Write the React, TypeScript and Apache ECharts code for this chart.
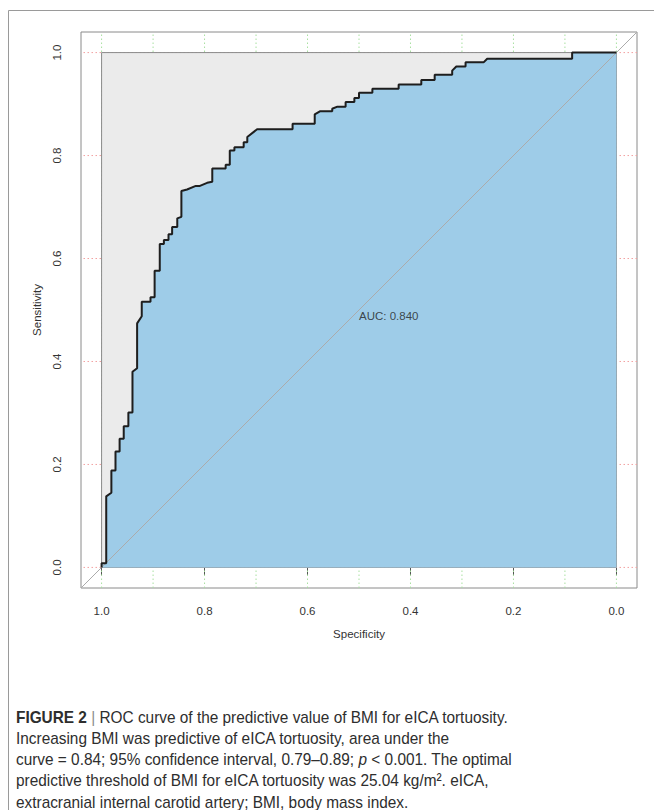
import React, { useEffect, useRef } from "react";
import * as echarts from "echarts";

// ROC curve points (specificity, sensitivity)
const specificity = [
  1.0, 1.0, 0.991, 0.991, 0.981, 0.981, 0.973, 0.973, 0.965, 0.965, 0.957, 0.957,
  0.948, 0.948, 0.94, 0.94, 0.931, 0.931, 0.922, 0.922, 0.905, 0.905, 0.897, 0.897,
  0.887, 0.887, 0.879, 0.879, 0.87, 0.87, 0.863, 0.863, 0.853, 0.853, 0.845, 0.845,
  0.834, 0.817, 0.809, 0.795, 0.785, 0.785, 0.759, 0.759, 0.751, 0.751, 0.742, 0.742,
  0.724, 0.724, 0.717, 0.717, 0.698, 0.629, 0.629, 0.586, 0.586, 0.576, 0.552, 0.552,
  0.542, 0.526, 0.526, 0.509, 0.509, 0.5, 0.5, 0.474, 0.474, 0.423, 0.423, 0.379,
  0.379, 0.353, 0.353, 0.319, 0.319, 0.311, 0.293, 0.293, 0.258, 0.251, 0.086, 0.086,
  0.0,
];
const sensitivity = [
  0.0, 0.008, 0.008, 0.138, 0.145, 0.188, 0.188, 0.225, 0.225, 0.25, 0.25, 0.274,
  0.274, 0.301, 0.301, 0.38, 0.387, 0.474, 0.488, 0.516, 0.516, 0.525, 0.525, 0.576,
  0.576, 0.628, 0.628, 0.636, 0.636, 0.647, 0.647, 0.661, 0.661, 0.678, 0.681, 0.731,
  0.734, 0.741, 0.741, 0.747, 0.749, 0.775, 0.775, 0.782, 0.782, 0.81, 0.81, 0.816,
  0.816, 0.826, 0.826, 0.836, 0.851, 0.851, 0.862, 0.862, 0.88, 0.886, 0.886, 0.891,
  0.895, 0.895, 0.904, 0.904, 0.912, 0.912, 0.922, 0.922, 0.93, 0.93, 0.938, 0.938,
  0.947, 0.947, 0.957, 0.957, 0.965, 0.973, 0.973, 0.981, 0.981, 0.988, 0.988, 1.0,
  1.0,
];

const xTickValues = [1.0, 0.8, 0.6, 0.4, 0.2, 0.0];
const yTickValues = [0.0, 0.2, 0.4, 0.6, 0.8, 1.0];
const xGridValues = [0.0, 0.1, 0.2, 0.3, 0.4, 0.5, 0.6, 0.7, 0.8, 0.9, 1.0];
const yGridValues = [0.0, 0.2, 0.4, 0.6, 0.8, 1.0];

const xTitle = "Specificity";
const yTitle = "Sensitivity";
const aucText = "AUC: 0.840";
const aucAnchor = [0.5, 0.5];

const captionLines = [
  "{b|FIGURE 2} {bar||} ROC curve of the predictive value of BMI for eICA tortuosity.",
  "Increasing BMI was predictive of eICA tortuosity, area under the",
  "curve = 0.84; 95% confidence interval, 0.79–0.89; {i|p} < 0.001. The optimal",
  "predictive threshold of BMI for eICA tortuosity was 25.04 kg/m². eICA,",
  "extracranial internal carotid artery; BMI, body mass index.",
];

const PAD = 0.04;
const FONT = "'Liberation Sans', Arial, Helvetica, sans-serif";
const BLUE = "#9ECCE8";
const GRAY_FILL = "#EBEBEB";
const CAP_SIZE = 17;
const CAP_COLOR = "#2e2e2e";

export default function App() {
  const ref = useRef<HTMLDivElement>(null);

  useEffect(() => {
    if (!ref.current) return;
    const chart = echarts.init(ref.current, undefined, { renderer: "svg" });

    const roc = specificity.map((s, i) => [s, sensitivity[i]]);

    const gridSeries: any[] = [];
    xGridValues.forEach((x) => {
      gridSeries.push({
        type: "line",
        z: 1,
        data: [
          [x, -PAD],
          [x, 1 + PAD],
        ],
        showSymbol: false,
        silent: true,
        lineStyle: { color: "#A8E0A0", width: 1, type: [1.5, 2.5] },
      });
    });
    yGridValues.forEach((y) => {
      gridSeries.push({
        type: "line",
        z: 1,
        data: [
          [-PAD, y],
          [1 + PAD, y],
        ],
        showSymbol: false,
        silent: true,
        lineStyle: { color: "#F2A0A0", width: 1, type: [1.5, 2.5] },
      });
    });

    const captionGraphics = captionLines.map((line, i) => ({
      type: "text",
      x: 16,
      y: 716.5 + i * 21.2,
      scaleX: 0.905,
      silent: true,
      style: {
        text: line,
        fill: CAP_COLOR,
        fontFamily: FONT,
        fontSize: CAP_SIZE,
        verticalAlign: "middle",
        align: "left",
        rich: {
          b: { fontFamily: FONT, fontSize: CAP_SIZE, fontWeight: "bold", fill: CAP_COLOR },
          bar: { fontFamily: FONT, fontSize: CAP_SIZE, fill: "#8a8a8a" },
          i: { fontFamily: FONT, fontSize: CAP_SIZE, fontStyle: "italic", fill: CAP_COLOR },
        },
      },
    }));

    chart.setOption({
      animation: false,
      backgroundColor: "#ffffff",
      textStyle: { fontFamily: FONT },
      grid: {
        left: 81,
        top: 32,
        right: 17,
        bottom: 222,
        show: true,
        borderColor: "#8a8a8a",
        borderWidth: 1,
        backgroundColor: "transparent",
      },
      xAxis: {
        type: "value",
        inverse: true,
        min: -PAD,
        max: 1 + PAD,
        axisLine: { show: false },
        splitLine: { show: false },
        axisTick: {
          show: true,
          customValues: xTickValues,
          length: 8,
          lineStyle: { color: "#555555" },
        },
        axisLabel: {
          customValues: xTickValues,
          formatter: (v: number) => v.toFixed(1),
          margin: 17,
          fontSize: 11.5,
          color: "#333333",
          fontFamily: FONT,
        },
        name: xTitle,
        nameLocation: "middle",
        nameGap: 40,
        nameTextStyle: { fontSize: 11.5, color: "#333333", fontFamily: FONT },
      },
      yAxis: {
        type: "value",
        min: -PAD,
        max: 1 + PAD,
        axisLine: { show: false },
        splitLine: { show: false },
        axisTick: {
          show: true,
          customValues: yTickValues,
          length: 8,
          lineStyle: { color: "#555555" },
        },
        axisLabel: {
          customValues: yTickValues,
          formatter: (v: number) => v.toFixed(1),
          rotate: 90,
          margin: 18,
          fontSize: 11.5,
          color: "#333333",
          fontFamily: FONT,
        },
        name: yTitle,
        nameLocation: "middle",
        nameGap: 37,
        nameTextStyle: { fontSize: 11.5, color: "#333333", fontFamily: FONT },
      },
      graphic: [
        {
          type: "line",
          silent: true,
          shape: { x1: 8.5, y1: 10.5, x2: 654, y2: 10.5 },
          style: { stroke: "#9a9a9a", lineWidth: 1 },
        },
        {
          type: "line",
          silent: true,
          shape: { x1: 8.5, y1: 10.5, x2: 8.5, y2: 810 },
          style: { stroke: "#9a9a9a", lineWidth: 1 },
        },
        ...captionGraphics,
      ],
      series: [
        ...gridSeries,
        {
          name: "max AUC",
          type: "line",
          z: 2,
          data: [
            [1, 1],
            [0, 1],
          ],
          showSymbol: false,
          silent: true,
          lineStyle: { width: 0, opacity: 0 },
          areaStyle: { color: GRAY_FILL, opacity: 1 },
        },
        {
          name: "max AUC border",
          type: "line",
          z: 3,
          data: [
            [1, 0],
            [1, 1],
            [0, 1],
            [0, 0],
            [1, 0],
          ],
          showSymbol: false,
          silent: true,
          lineStyle: { color: "#8a8a8a", width: 1 },
        },
        {
          name: "AUC area",
          type: "line",
          z: 4,
          data: roc,
          showSymbol: false,
          silent: true,
          lineStyle: { width: 0, opacity: 0 },
          areaStyle: { color: BLUE, opacity: 1 },
        },
        {
          name: "chance",
          type: "line",
          z: 5,
          data: [
            [1 + PAD, -PAD],
            [-PAD, 1 + PAD],
          ],
          showSymbol: false,
          silent: true,
          lineStyle: { color: "#ABABAB", width: 1 },
        },
        {
          name: "ROC",
          type: "line",
          z: 6,
          data: roc,
          showSymbol: false,
          silent: true,
          lineStyle: { color: "#1e1e1e", width: 2 },
        },
        {
          name: "AUC label",
          type: "scatter",
          z: 10,
          data: [aucAnchor],
          symbolSize: 2,
          silent: true,
          itemStyle: { color: "rgba(0,0,0,0)" },
          label: {
            show: true,
            formatter: aucText,
            position: [1, 1],
            align: "left",
            verticalAlign: "top",
            fontSize: 11.5,
            color: "#222222",
            fontFamily: FONT,
          },
        },
      ],
    });

    return () => chart.dispose();
  }, []);

  return (
    <div
      ref={ref}
      style={{ position: "absolute", left: 0, top: 0, width: 654, height: 810 }}
    />
  );
}
